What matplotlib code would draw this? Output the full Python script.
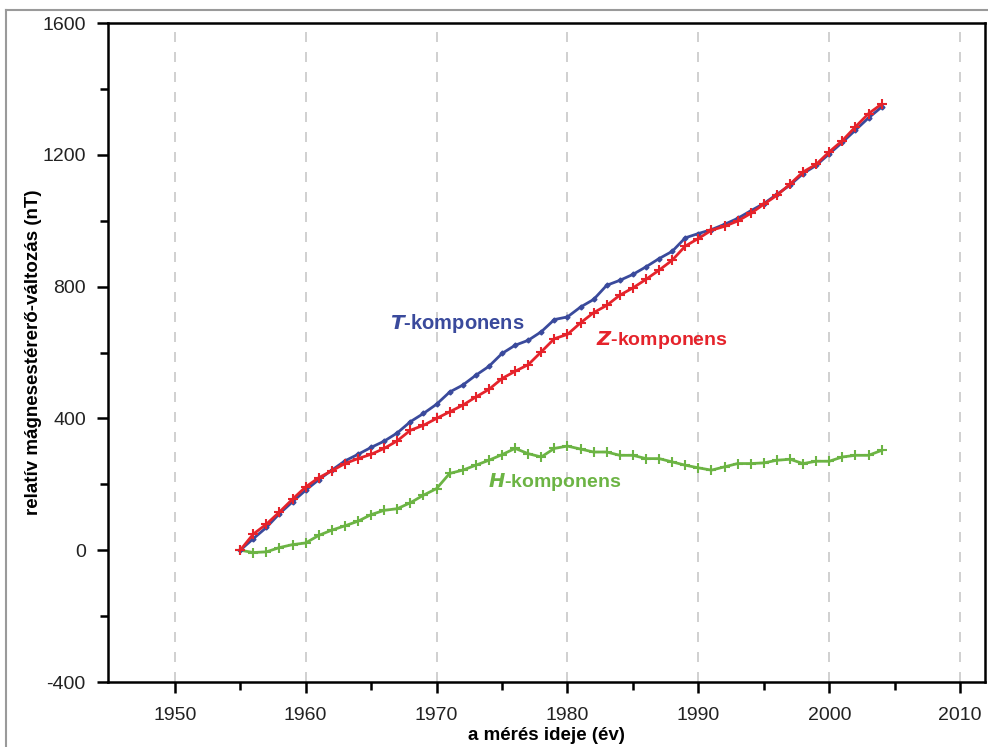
import numpy as np
import matplotlib
matplotlib.use("Agg")
import matplotlib.pyplot as plt
from matplotlib.lines import Line2D

plt.rcParams['font.family'] = ['Liberation Sans', 'DejaVu Sans']
plt.rcParams['axes.unicode_minus'] = False

years = np.arange(1955, 2005)

t_comp = [0, 35, 69, 111, 147, 182, 214, 243, 271, 291,
          312, 331, 356, 390, 415, 443, 480, 501, 531, 558,
          597, 622, 637, 663, 700, 708, 738, 761, 804, 819,
          837, 860, 885, 907, 948, 961, 973, 989, 1007, 1030,
          1052, 1080, 1108, 1143, 1168, 1203, 1238, 1275, 1312, 1345]

z_comp = [0, 49, 79, 116, 155, 192, 220, 241, 263, 278,
          291, 309, 332, 364, 379, 400, 420, 440, 465, 488,
          521, 543, 563, 602, 642, 655, 690, 721, 743, 774,
          796, 822, 850, 880, 923, 946, 971, 983, 999, 1022,
          1050, 1077, 1111, 1148, 1171, 1209, 1243, 1285, 1325, 1354]

h_comp = [0, -7, -5, 8, 17, 22, 45, 61, 74, 88,
          108, 121, 126, 144, 167, 187, 233, 243, 258, 273,
          290, 309, 293, 283, 309, 316, 307, 298, 298, 288,
          288, 278, 278, 268, 258, 250, 243, 253, 263, 263,
          265, 273, 276, 263, 270, 270, 283, 288, 288, 303]

blue = '#3a4a9c'
red = '#e5232b'
green = '#6cb444'

fig = plt.figure(figsize=(9.88, 7.47), dpi=100)
ax = fig.add_axes([0.1093, 0.087, 0.8877, 0.8822])

for xv in range(1950, 2011, 10):
    ax.axvline(xv, color='#c8c8c8', lw=1.2, dashes=(6, 6), zorder=0)

ax.plot(years, h_comp, color=green, lw=2, marker='+', ms=7, mew=1.5)
ax.plot(years, t_comp, color=blue, lw=2, marker='D', ms=2.5)
ax.plot(years, z_comp, color=red, lw=2, marker='+', ms=7, mew=1.5)

ax.set_xlim(1944.9, 2011.9)
ax.set_ylim(-400, 1600)
ax.set_xticks(range(1950, 2011, 10))
ax.set_xticks(range(1955, 2011, 10), minor=True)
ax.set_yticks(range(-400, 1601, 400))
ax.set_yticks(range(-200, 1601, 400), minor=True)
ax.tick_params(axis='both', which='major', direction='out', length=8, width=1.8)
ax.tick_params(axis='both', which='minor', direction='out', length=5.5, width=1.8)
ax.tick_params(axis='x', pad=10)
ax.tick_params(axis='y', pad=8)
for lab in ax.get_xticklabels() + ax.get_yticklabels():
    lab.set_fontsize(14)
    lab.set_color('#222222')
for s in ax.spines.values():
    s.set_linewidth(1.8)

ax.set_xlabel('a mérés ideje (év)', fontsize=13.5, fontweight='bold')
ax.set_ylabel('relatív mágnesestérerő-változás (nT)', fontsize=13.5, fontweight='bold')
ax.xaxis.set_label_coords(0.5, -0.068)
ax.yaxis.set_label_coords(-0.075, 0.5)

ax.text(1971.6, 689, r'$\bfit{T}$' + '-komponens', color=blue, fontsize=14.5, fontweight='bold',
        ha='center', va='center')
ax.text(1987.2, 637, r'$\bfit{Z}$' + '-komponens', color=red, fontsize=14, fontweight='bold',
        ha='center', va='center')
ax.text(1979.05, 206, r'$\bfit{H}$' + '-komponens', color=green, fontsize=14, fontweight='bold',
        ha='center', va='center')

fig.add_artist(Line2D([0.006, 1.0], [1 - 10 / 747, 1 - 10 / 747], color='#9a9a9a', lw=1.5))
fig.add_artist(Line2D([0.006, 0.006], [0.0, 1 - 10 / 747], color='#9a9a9a', lw=1.5))

fig.savefig('out.png', dpi=100)
